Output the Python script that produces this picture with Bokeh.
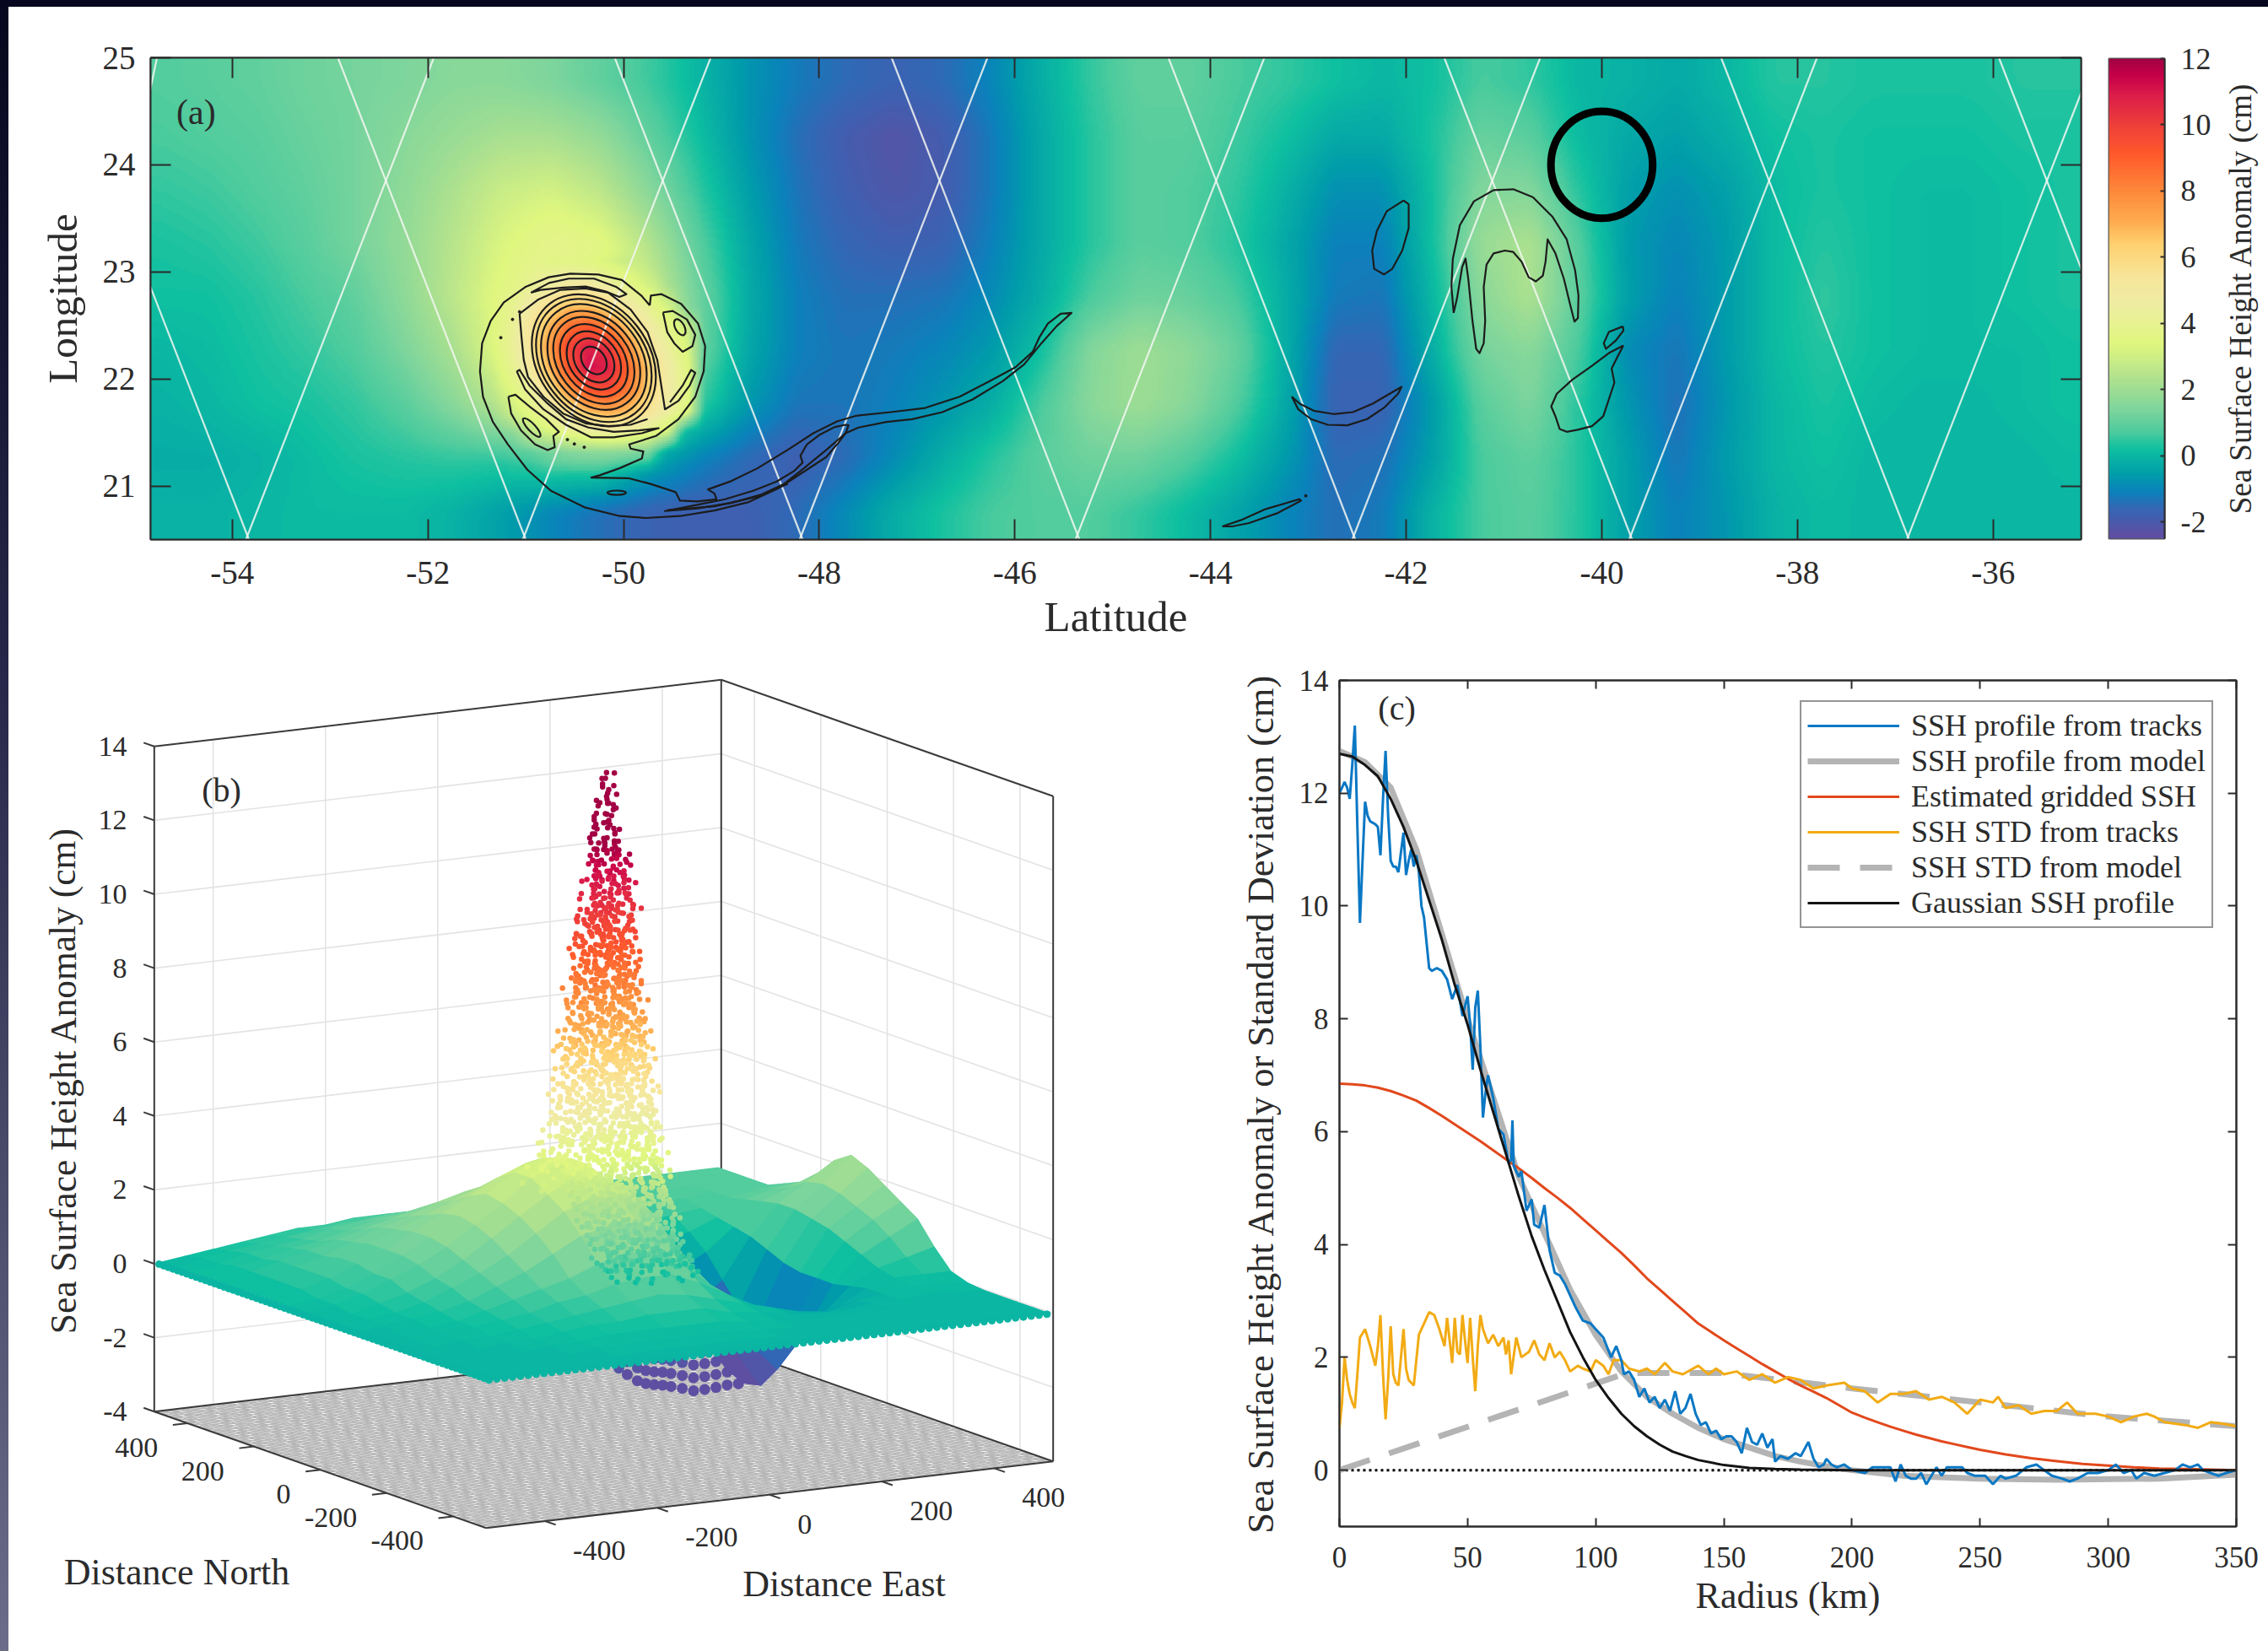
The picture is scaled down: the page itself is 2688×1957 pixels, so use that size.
import math
import numpy as np
from bokeh.plotting import figure
from bokeh.layouts import column, row
from bokeh.models import (ColumnDataSource, FixedTicker, LinearAxis, LinearColorMapper,
                          Legend, LegendItem, Range1d)
from bokeh.core.properties import value
from bokeh.transform import transform
from bokeh.embed import file_html
from bokeh.resources import INLINE

# ------------------------------------------------------------------ colour scale
cmap_values = [-2.5, -2.4, -1.6, -1.1, -0.6, 0.2, 0.7, 1.4, 2.4, 3.4, 4.6, 5.4, 6.4, 7.1, 7.9, 9.1, 10.0, 11.0, 11.5, 12.0]
cmap_colors = ["#5e4fa2", "#5e4fa2", "#3366b5", "#0a82bb", "#009caa", "#0fc0a0", "#4ccb9e", "#7ed59c", "#b4e38d", "#e0f77e",
               "#eeeca3", "#f7e69a", "#fed06f", "#feab4f", "#fd8d3c", "#ff5a2b", "#ef3f3a", "#d91a4a", "#c60048", "#a30044"]

# ------------------------------------------------------------------ panel (a): gridded field, 0.5 deg cells
sla_lat = [24.75, 24.25, 23.75, 23.25, 22.75, 22.25, 21.75, 21.25, 20.75]
sla_lon = [-54.75 + 0.5 * i for i in range(40)]
sla_rows = [
 [.8,.9,1.0,1.2,1.3,1.4,1.6,1.6,1.4,1.0,.6,0,-.7,-1.2,-1.5,-1.7,-1.5,-1.0,-.2,.5,1.0,1.0,.7,.5,.2,0,.2,.7,.5,0,-.1,-.3,0,.4,.4,.3,.3,.3,.4,.4],
 [.7,.8,.9,1.1,1.3,1.6,1.9,2.2,2.2,1.8,1.0,.2,-.7,-1.4,-1.9,-2.2,-1.9,-1.2,-.3,.4,.9,.9,.6,.2,-.3,-.3,.3,1.1,.9,.1,-.3,-.5,-.2,.2,.3,.2,.2,.2,.3,.3],
 [.5,.6,.8,1.0,1.3,1.7,2.3,2.9,3.1,2.6,1.6,.5,-.5,-1.3,-1.8,-2.1,-1.9,-1.2,-.3,.4,.9,.8,.5,-.1,-.8,-.8,.2,1.5,1.5,.4,-.5,-.8,-.5,.1,.3,.2,.1,.1,.2,.3],
 [.3,.4,.6,.9,1.3,1.8,2.5,3.3,3.9,3.6,2.4,.9,-.3,-1.2,-1.6,-1.8,-1.7,-1.1,-.3,.4,.9,.8,.4,-.3,-1.1,-1.1,.2,1.9,2.3,.8,-.6,-1,-.6,.1,.4,.2,.1,.1,.2,.3],
 [.2,.2,.4,.7,1.0,1.7,2.6,3.6,4.2,4.2,3.0,1.2,-.2,-1.1,-1.4,-1.4,-1.3,-.9,-.2,.7,1.2,1.1,.7,-.2,-1.2,-1.3,0,1.6,2.3,.9,-.5,-1.1,-.6,.1,.5,.2,.1,.1,.2,.3],
 [0,.1,.3,.5,.8,1.4,2.2,3.6,4.4,4.4,3.2,1.2,-.3,-1.1,-1.3,-1.2,-1.0,-.6,.2,1.5,2,1.7,1.1,-.2,-1.6,-1.6,-.2,1.3,1.6,.7,-.9,-1.3,-.6,.1,.4,.2,.1,.1,.1,.2],
 [-.1,0,.2,.3,.5,.9,1.6,2.6,3.8,3.9,2.4,.6,-.6,-1.3,-1.3,-1.1,-.7,-.2,.7,1.6,2,1.6,.8,-.3,-1.7,-1.7,-.6,.9,1.4,.4,-.7,-1.4,-.7,0,.3,.1,0,0,.1,.2],
 [-.2,-.2,-.1,.1,.3,.4,.5,.5,.9,1,-.2,-1,-1.5,-1.8,-1.5,-.9,-.2,.4,.9,1.2,1.2,.8,.2,-.6,-1.5,-1.4,-.5,.7,1,.4,-.5,-1.3,-.6,0,.2,0,0,0,0,.1],
 [-.1,-.1,0,.1,.1,.1,-.1,-.5,-1,-1.4,-1.7,-1.8,-1.8,-1.5,-.9,-.2,.3,.7,.8,.8,.5,.1,-.4,-1,-1.4,-1.2,-.1,.7,.9,.4,-.5,-1.1,-.7,-.1,.1,0,0,0,0,0],
]
nan = float("nan")
# the strong anomaly, 0.2 deg cells
core_lon = [-51.15 + 0.2 * i for i in range(10)]
core_lat = [23.1 - 0.2 * i for i in range(10)]
core_rows = [
 [nan,nan,3.6,3.7,3.5,3.2,2.8,nan,nan,nan],
 [nan,4.0,4.6,4.8,4.7,4.3,3.7,3.0,nan,nan],
 [3.9,4.8,5.7,6.4,6.4,5.7,4.8,3.9,3.0,nan],
 [4.1,5.4,6.95,8.6,9.0,8.0,6.2,4.8,3.7,2.9],
 [4.1,5.5,7.6,9.9,10.9,10.2,7.9,5.6,4.3,3.2],
 [3.9,5.1,7.0,9.5,11.2,10.8,8.8,6.4,4.7,3.6],
 [3.4,4.4,5.8,7.7,9.4,9.6,8.3,6.3,4.8,3.7],
 [2.9,3.7,4.6,5.7,6.8,7.2,6.7,5.5,4.5,3.5],
 [nan,2.6,3.2,3.8,4.2,4.4,4.2,3.7,3.0,nan],
 [nan,nan,1.2,1.4,1.5,1.5,1.4,1.2,nan,nan],
]
track_lon_at_25 = [-55.75, -54.77, -52.92, -51.94, -50.09, -49.11, -47.26, -46.28, -44.43, -43.45, -41.61, -40.63, -38.78, -37.80, -35.94, -34.96]
track_lon_at_205 = [-53.83, -55.81, -51.0, -53.86, -48.17, -51.03, -45.34, -48.2, -42.52, -45.38, -39.69, -42.55, -36.86, -39.72, -34.02, -36.88]

contour_main = [(-49.732,22.687),(-49.721,22.779),(-49.612,22.792),(-49.411,22.701),(-49.238,22.517),(-49.166,22.307),(-49.181,22.071),(-49.267,21.834),(-49.439,21.624),(-49.669,21.467),(-49.942,21.388),(-49.928,21.349),(-49.798,21.323),(-49.813,21.257),(-50.043,21.165),(-50.244,21.100),(-50.330,21.079),(-49.951,21.073),(-49.731,21.021),(-49.467,20.942),(-49.423,20.863),(-49.247,20.855),(-49.05,20.876),(-49.07,20.929),(-49.137,20.968),(-48.896,21.047),(-48.632,21.165),(-48.324,21.336),(-48.06,21.493),(-47.818,21.603),(-47.62,21.656),(-47.268,21.69),(-46.917,21.729),(-46.565,21.834),(-46.257,21.979),(-45.993,22.11),(-45.817,22.254),(-45.751,22.386),(-45.663,22.517),(-45.531,22.609),(-45.421,22.617),(-45.575,22.491),(-45.729,22.333),(-45.905,22.136),(-46.125,21.979),(-46.433,21.808),(-46.741,21.69),(-47.048,21.624),(-47.312,21.598),(-47.598,21.546),(-47.73,21.493),(-47.928,21.336),(-48.192,21.139),(-48.412,20.981),(-48.72,20.85),(-49.071,20.771),(-49.423,20.719),(-49.775,20.701),(-50.039,20.719),(-50.391,20.798),(-50.743,20.955),(-50.984,21.152),(-51.182,21.388),(-51.336,21.598),(-51.437,21.834),(-51.468,22.071),(-51.446,22.333),(-51.358,22.543),(-51.226,22.714),(-51.006,22.858),(-50.765,22.95),(-50.545,22.984),(-50.259,22.976),(-50.017,22.924),(-49.819,22.779),(-49.732,22.687)]
contour_tail = [(-47.73,21.572),(-47.84,21.551),(-47.994,21.48),(-48.126,21.388),(-48.192,21.283),(-48.17,21.218),(-48.258,21.139),(-48.434,21.042),(-48.676,20.955),(-48.962,20.876),(-49.247,20.824),(-49.577,20.766),(-49.247,20.79),(-48.896,20.842),(-48.588,20.921),(-48.324,21.034),(-48.126,21.152),(-47.928,21.27),(-47.818,21.388),(-47.73,21.493),(-47.70,21.567),(-47.73,21.572)]
contour_tail2 = [(-49.55,20.775),(-49.07,20.81),(-48.63,20.90),(-48.32,21.02)]
contour_left = [(-51.178,21.834),(-51.106,21.853),(-50.962,21.743),(-50.79,21.624),(-50.661,21.506),(-50.718,21.467),(-50.704,21.362),(-50.776,21.336),(-50.905,21.388),(-51.048,21.519),(-51.149,21.677),(-51.178,21.834)]
contour_upper_right = [(-49.597,22.622),(-49.497,22.635),(-49.353,22.556),(-49.267,22.412),(-49.296,22.307),(-49.396,22.254),(-49.482,22.333),(-49.554,22.438),(-49.597,22.622)]
contour_ring_right = [(-51.063,22.609),(-50.876,22.740),(-50.646,22.832),(-50.388,22.845),(-50.158,22.806),(-49.928,22.648),(-49.755,22.438),(-49.655,22.176),(-49.606,21.887),(-49.577,21.716),(-49.439,21.795),(-49.324,21.939),(-49.267,22.057),(-49.31,22.084),(-49.396,21.939),(-49.526,21.782)]
contour_ring_left = [(-51.063,22.609),(-51.043,22.386),(-51.02,22.176),(-50.977,22.018),(-50.819,21.834),(-50.617,21.677),(-50.388,21.585),(-50.158,21.559),(-49.928,21.572),(-49.755,21.625)]
contour_low = [(-51.092,22.071),(-51.063,22.084),(-50.962,21.939),(-50.79,21.782),(-50.589,21.624),(-50.359,21.546),(-50.1,21.506),(-49.842,21.52),(-49.641,21.54),(-49.813,21.493),(-50.1,21.454),(-50.33,21.454),(-50.589,21.572),(-50.819,21.716),(-51.005,21.9),(-51.092,22.071)]
contour_top = [(-50.948,22.806),(-50.761,22.897),(-50.56,22.937),(-50.301,22.937),(-50.071,22.858),(-49.971,22.792),(-50.043,22.766),(-50.187,22.819),(-50.388,22.863),(-50.617,22.853),(-50.847,22.832),(-50.948,22.806)]
contour_blob1 = [(-42.026,23.667),(-41.974,23.632),(-41.974,23.409),(-42.04,23.199),(-42.141,23.029),(-42.227,22.976),(-42.327,23.029),(-42.347,23.199),(-42.299,23.383),(-42.198,23.567),(-42.026,23.667)]
contour_smile = [(-43.169,21.835),(-43.089,21.769),(-42.945,21.703),(-42.744,21.672),(-42.543,21.69),(-42.342,21.769),(-42.169,21.861),(-42.046,21.926),(-42.083,21.861),(-42.227,21.73),(-42.399,21.625),(-42.6,21.567),(-42.802,21.572),(-42.974,21.625),(-43.103,21.716),(-43.169,21.835)]
contour_sliver = [(-43.879,20.622),(-43.692,20.68),(-43.434,20.785),(-43.089,20.877),(-43.075,20.863),(-43.319,20.745),(-43.606,20.654),(-43.779,20.622),(-43.879,20.622)]
contour_arch = [(-41.514,22.617),(-41.537,22.858),(-41.523,23.121),(-41.451,23.436),(-41.307,23.659),(-41.106,23.764),(-40.905,23.772),(-40.704,23.698),(-40.503,23.514),(-40.359,23.304),(-40.273,23.016),(-40.238,22.779),(-40.244,22.569),(-40.279,22.535),(-40.325,22.701),(-40.388,22.937),(-40.474,23.173),(-40.554,23.304),(-40.575,23.094),(-40.603,22.963),(-40.675,22.911),(-40.747,22.95),(-40.819,23.094),(-40.905,23.186),(-40.991,23.199),(-41.106,23.173),(-41.178,23.068),(-41.207,22.858),(-41.192,22.543),(-41.207,22.333),(-41.25,22.241),(-41.284,22.281),(-41.322,22.543),(-41.365,22.937),(-41.393,23.126),(-41.428,23.042),(-41.48,22.753),(-41.514,22.617)]
contour_blob2 = [(-39.779,22.312),(-39.842,22.202),(-39.899,22.097),(-39.871,21.966),(-39.928,21.808),(-39.985,21.651),(-40.1,21.559),(-40.244,21.525),(-40.359,21.506),(-40.431,21.533),(-40.474,21.651),(-40.517,21.743),(-40.46,21.861),(-40.302,21.992),(-40.1,22.123),(-39.928,22.241),(-39.779,22.312)]
contour_blob3 = [(-39.784,22.491),(-39.779,22.451),(-39.856,22.359),(-39.957,22.281),(-39.98,22.333),(-39.928,22.438),(-39.784,22.491)]
contours = [contour_main, contour_tail, contour_tail2, contour_left, contour_upper_right, contour_ring_right, contour_ring_left,
            contour_low, contour_top, contour_blob1, contour_smile, contour_sliver, contour_arch, contour_blob2, contour_blob3]
speck_lon = [-51.255, -51.135, -51.063, -50.574, -50.503, -50.402, -43.026]
speck_lat = [22.386, 22.556, 22.627, 21.433, 21.393, 21.362, 20.908]
# closed rings: centre, long axis (deg lon), short axis (deg lat), angle (deg)
ring_lon = [-50.304]*9 + [-50.07, -50.939, -49.425]
ring_lat = [22.173]*9 + [20.937, 21.546, 22.483]
ring_long = [.31, .49, .65, .81, .97, 1.10, 1.25, 1.37, 1.47, .19, .25, .18]
ring_short = [.21, .34, .45, .56, .67, .77, .88, .96, 1.03, .04, .07, .085]
ring_angle = [128]*9 + [0, 133, 118]
mark_lon, mark_lat = [-40.0], [24.0]
mark_diam_lon, mark_diam_lat = [1.04], [1.0]

xticks_a = [-54, -52, -50, -48, -46, -44, -42, -40, -38, -36]
yticks_a = [21, 22, 23, 24, 25]
cbar_ticks = [-2, 0, 2, 4, 6, 8, 10, 12]

# ------------------------------------------------------------------ panel (b)
sheet_east = [-500,-450,-400,-350,-300,-250,-200,-150,-100,-50,0,50,100,150,200,250,300,350,400,450,500]
sheet_north = [500,450,400,350,300,250,200,150,100,50,0,-50,-100,-150,-200,-250,-300,-350,-400,-450,-500]
sheet_ssh = [
 [0,.1,.2,.3,.4,.5,.5,.6,.6,.6,.5,.5,.5,.6,.7,.8,.8,.8,.8,.8,.8],
 [0,.2,.3,.4,.5,.6,.7,.7,.8,.8,.7,.6,.6,.7,.8,.8,.8,.8,.8,.8,.8],
 [.1,.2,.4,.5,.6,.8,.9,1.0,1.0,1.0,.9,.8,.7,.7,.8,.8,.8,.8,.8,.8,.8],
 [.1,.3,.4,.6,.7,.9,1.1,1.2,1.3,1.3,1.2,1.0,.8,.7,.7,.7,.7,.7,.8,.8,.8],
 [.1,.3,.5,.7,.9,1.1,1.3,1.5,1.6,1.7,1.6,1.3,1.0,.7,.5,.4,.5,.6,.8,.9,1.0],
 [.1,.3,.5,.7,1.0,1.3,1.5,1.8,2.0,2.1,2.0,1.6,1.0,.5,.2,.0,.2,.5,.9,1.1,1.2],
 [.1,.3,.5,.8,1.1,1.4,1.7,2.0,2.3,2.6,2.5,1.9,1.1,.4,-.2,-.6,-.2,.4,1.0,1.3,1.6],
 [.1,.3,.5,.8,1.1,1.5,1.9,2.3,2.7,3.0,2.9,2.2,1.2,.2,-.8,-1.4,-.8,.3,1.1,1.6,2.1],
 [.1,.2,.4,.7,1.1,1.5,2.0,2.5,3.0,3.3,3.2,2.4,1.4,.1,-1.3,-2.2,-1.4,.1,1.1,1.7,2.4],
 [0,.2,.4,.7,1.0,1.4,1.9,2.4,3.0,3.3,3.2,2.5,1.5,0,-1.7,-2.8,-1.8,-.1,1.0,1.6,2.2],
 [0,.1,.3,.5,.8,1.2,1.7,2.2,2.7,3.1,3.0,2.5,1.4,-.1,-1.9,-3.0,-1.9,-.2,.9,1.4,1.9],
 [0,.1,.2,.4,.7,1.0,1.4,1.9,2.4,2.7,2.7,2.2,1.1,-.2,-1.8,-2.9,-1.8,-.2,.7,1.2,1.6],
 [0,.1,.2,.3,.5,.8,1.1,1.5,1.9,2.1,2.1,1.7,.7,-.3,-1.5,-2.3,-1.4,-.2,.5,.9,1.3],
 [0,0,.1,.2,.4,.6,.8,1.0,1.3,1.5,1.5,1.1,.4,-.3,-1.0,-1.5,-.8,-.1,.3,.5,.7],
 [0,0,.1,.2,.3,.4,.6,.7,.9,1.0,1.0,.7,.3,-.1,-.5,-.7,-.4,0,.2,.2,.2],
 [0,0,.1,.1,.2,.3,.4,.5,.6,.7,.6,.4,.2,0,-.2,-.3,-.1,0,.1,.1,.05],
 [0,0,0,.1,.1,.2,.3,.3,.4,.4,.4,.2,.1,0,-.1,-.1,0,0,.1,.05,0],
 [0,0,0,0,.1,.1,.2,.2,.2,.2,.2,.1,.05,0,0,0,0,0,0,0,0],
 [0,0,0,0,0,.1,.1,.1,.1,.1,.1,.05,0,0,0,0,0,0,0,0,0],
 [0,0,0,0,0,0,.05,.05,.05,.05,.05,0,0,0,0,0,0,0,0,0,0],
 [0,0,0,0,0,0,0,0,0,0,0,0,0,0,0,0,0,0,0,0,0],
]
# underside of the depression that shows below the sheet's front edge
bowl_east = [27,42,60,75,90,105,120,140,160,180,200,220,240,260,280,295,310]
bowl_low = [-2.2,-2.4,-2.6,-2.7,-2.76,-2.8,-2.86,-2.95,-3.05,-3.05,-3.03,-3.0,-3.0,-2.85,-2.67,-2.5,-2.28]
# dots of the central peak: height (cm), distance east (km) of each dot
peak_rows = [
 (13.9,[-6,0,4]),(13.7,[-9,-2,6]),(13.5,[-11,7]),(13.3,[-10,1,10]),(13.0,[-12,-3,8,13]),(12.8,[-10,12]),
 (12.5,[-17,-9,2,14]),(12.3,[-20,-6,9,18]),(12.0,[-22,-12,-2,10,20]),(11.8,[-24,-15,0,13,25]),(11.5,[-26,-10,6,22]),
 (11.3,[-28,-18,-4,11,29]),(11.0,[-30,-14,0,8,24,33]),(10.8,[-27,-20,-6,16,31]),(10.5,[-32,-22,-11,3,12,26,36]),
 (10.3,[-34,-16,-3,20,40]),(10.0,[-36,-24,-8,6,18,32]),(9.8,[-38,-28,-14,1,12,27,42]),(9.5,[-40,-20,-6,9,22,38]),
 (9.3,[-43,-31,-12,3,17,30,45]),(9.0,[-42,-26,-18,-2,11,25,40]),(8.8,[-45,-34,-10,6,19,33,48]),(8.5,[-48,-28,-16,0,14,28,44]),
 (8.3,[-50,-38,-22,-6,9,24,37,50]),(8.0,[-52,-40,-30,-13,3,17,32,46]),(7.8,[-54,-26,-8,12,27,41,55]),(7.5,[-55,-43,-20,-2,8,22,36,52]),
 (7.3,[-58,-35,-14,5,18,30,46,58]),(7.0,[-60,-48,-28,-10,2,15,28,42,56]),(6.8,[-62,-40,-20,-4,10,24,38,52,60]),
 (6.5,[-65,-52,-33,-15,0,13,27,44,62]),(6.3,[-68,-45,-25,-8,7,20,35,50,64]),(6.0,[-70,-56,-38,-18,-2,12,26,41,57,68]),
 (5.8,[-72,-48,-30,-12,5,18,33,48,66]),(5.5,[-75,-60,-42,-22,-6,9,23,38,54,70]),(5.3,[-78,-52,-35,-15,2,16,30,46,62,72]),
 (5.0,[-82,-65,-45,-27,-10,6,20,35,50,67,75]),(4.8,[-85,-58,-38,-20,-4,12,27,42,58,74]),(4.5,[-88,-70,-50,-32,-14,2,17,32,48,64,78]),
 (4.3,[-92,-62,-43,-25,-8,8,23,39,55,71,80]),(4.0,[-96,-76,-55,-36,-18,-2,13,28,44,60,76,84]),(3.8,[-100,-68,-47,-28,-12,4,19,35,51,67,86]),
 (3.5,[-108,-82,-58,-40,-22,-5,10,25,41,57,73,88]),(3.3,[-115,-74,-50,-32,-15,1,16,32,48,64,80,90]),(3.0,[-125,-90,-62,-44,-26,-9,6,22,38,54,70,86,94]),
 (2.7,[-60,-40,-20,-5,10,25,40,55,70,85,96]),(2.4,[-50,-30,-12,5,20,35,50,65,80,95,102]),(2.1,[-45,-25,-8,10,28,42,58,72,88,104,108]),
 (1.8,[-35,-15,2,18,34,50,66,82,98,112]),(1.5,[-30,-10,8,24,40,56,72,88,104,118]),(1.2,[-20,0,16,32,48,64,80,96,112,124]),
 (0.9,[-10,8,26,42,58,74,90,106,122,132]),(0.6,[0,18,34,50,66,82,98,114,130,140]),(0.3,[10,28,44,60,76,92,108,124,140,146]),
]
# the same cloud seen on tracks north and south of the peak centre: north (km), east shift (km), height shift (cm)
peak_layers = [(0, 0, 0), (32, 8, 0.09), (-32, -7, -0.08), (16, -12, 0.16)]
peak_east_wobble = [3,-5,7,-2,-8,4,1,-6,9,-3,5,-9,2,6,-4,8,-7,0,-1,5,-6,3,8,-8,1,-3,6]
peak_ssh_wobble = [.06,-.09,.02,.11,-.04,-.12,.08,-.01,.1,-.07,.04,-.11,.12,-.03,.07,-.06,.01,.09,-.1,.05,-.02]
east_ticks = [-400, -200, 0, 200, 400]
north_ticks = [400, 200, 0, -200, -400]
z_ticks = [-4, -2, 0, 2, 4, 6, 8, 10, 12, 14]

# ------------------------------------------------------------------ panel (c)
tracks_r = [0,1,2,3,4,5,6,7,8,9,10,11,12,14,15,16,17,18,19,20,21,22,23,25,26,27,28,29,30,31,32,33,35,36,38,40,42,44,46,48,50,51,52,53,54,55,56,57,58,60,62,64,65,66,67,67.5,68,70,71,73,75,76,78,80,82,84,86,88,90,92,95,98,100,103,106,108,110,111,113,115,117,119,121,123,125,127,129,131,133,135,137,139,141,143,145,147,149,151,153,155,157,159,161,163,165,167,169,170,172,175,178,180,183,185,187,189,190,192,194,197,200,205,208,212,215,217,219,221,223,225,227,229,231,233,235,237,240,243,245,248,252,255,258,260,264,268,272,275,278,282,285,288,292,296,300,303,306,309,311,314,318,322,326,329,332,335,337,340,343,346,350]
tracks_ssh = [12.0,12.1,12.2,12.1,11.9,12.5,13.2,11.4,9.7,10.8,11.85,11.6,11.5,11.45,11.4,10.9,11.9,12.75,11.6,10.8,10.7,10.7,10.6,11.3,10.55,10.8,11,10.7,10.9,10.6,10.0,9.8,8.9,8.85,8.9,8.85,8.7,8.35,8.6,8.05,8.4,7.9,7.1,8.2,8.5,7.5,6.25,6.7,7.0,6.6,6.05,5.95,5.7,5.45,5.5,6.2,5.4,5.2,5.3,4.6,4.8,4.35,4.3,4.7,3.9,3.5,3.45,3.3,3.1,2.9,2.65,2.6,2.5,2.35,2.0,2.2,1.95,1.7,1.75,1.6,1.3,1.45,1.2,1.3,1.1,1.25,1.05,1.4,1.0,1.1,1.35,1.0,.8,.85,.65,.7,.55,.6,.6,.5,.3,.75,.5,.45,.65,.4,.55,.15,.25,.2,.3,.25,.5,.2,.05,.1,.2,.1,.05,.1,0,-.05,.05,.05,.05,-.2,.1,-.1,-.15,-.15,-.05,-.25,-.1,.05,-.1,.05,.05,.05,-.05,-.1,-.1,-.25,-.1,-.15,-.1,.05,.1,0,-.1,-.15,-.2,-.15,-.05,-.05,0,.1,-.05,0,-.15,-.05,-.1,-.05,0,.1,.05,.1,0,-.05,-.1,-.05,0]
model_r = [0,10,20,30,40,50,60,70,80,90,100,110,120,130,140,150,160,170,180,190,200,220,250,280,320,350]
model_ssh = [12.75,12.55,12.1,11,9.5,8.0,6.6,5.2,4.2,3.2,2.4,1.75,1.3,1.0,.75,.55,.4,.25,.15,.07,0,-.1,-.15,-.17,-.15,-.08]
gridded_r = [0,5,10,15,20,25,30,35,40,45,50,55,60,65,70,75,80,85,90,95,100,105,110,115,120,125,130,135,140,145,150,155,160,165,170,175,180,185,190,195,200,205,210,215,220,225,230,235,240,245,250,260,270,280,290,300,310,320,330,350]
gridded_ssh = [6.85,6.84,6.82,6.78,6.72,6.64,6.55,6.42,6.28,6.13,5.98,5.83,5.67,5.51,5.35,5.18,5.0,4.83,4.65,4.45,4.25,4.05,3.85,3.63,3.4,3.2,3.0,2.8,2.6,2.45,2.3,2.16,2.02,1.88,1.75,1.62,1.5,1.39,1.28,1.15,1.02,.93,.85,.77,.7,.63,.57,.51,.46,.41,.36,.28,.21,.16,.11,.08,.05,.03,.02,0]
std_r = [0,1,2,3,4,5,6,7,8,10,12,14,15,16,17,18,19,20,21,22,23,25,26,27,28,29,31,33,35,37,39,41,42,43,44,45,46,47,48,49,50,51,52,53,54,55,56,58,60,62,64,65,66,67,69,71,74,76,78,80,82,84,86,88,90,93,95,98,100,103,105,107,110,113,117,120,123,127,130,134,140,144,147,150,155,160,165,170,175,180,185,190,197,200,205,210,215,220,225,230,235,240,245,250,255,257,260,265,270,275,280,284,288,295,300,305,310,315,318,322,330,335,340,345,350]
std_tracks = [.75,1.2,2.0,1.6,1.35,1.2,1.1,1.7,2.35,2.5,2.2,1.85,2.2,2.75,1.7,.9,1.6,2.55,1.7,1.55,1.5,2.5,1.8,1.6,1.55,1.5,2.4,2.6,2.8,2.75,2.5,2.2,2.7,2.3,1.9,2.7,2.1,2.05,2.75,2.3,1.9,2.7,2.0,1.4,2.2,2.75,2.5,2.25,2.4,2.2,2.35,2.05,2.3,1.7,2.35,2.0,2.1,2.3,2.05,1.95,2.25,2.0,2.1,1.95,1.75,1.85,1.8,1.75,1.95,1.85,1.7,1.95,1.95,1.8,1.75,1.8,1.7,1.9,1.75,1.7,1.85,1.7,1.8,1.7,1.75,1.6,1.7,1.55,1.65,1.6,1.45,1.5,1.55,1.45,1.4,1.2,1.35,1.35,1.4,1.25,1.3,1.2,1.0,1.25,1.2,1.3,1.1,1.15,1.0,1.05,1.05,1.2,1.0,1.0,.95,.85,.95,1.0,.95,.85,.8,.75,.85,.82,.78]
std_model_r = [0,112,125,150,200,250,300,350]
std_model = [0,1.72,1.72,1.72,1.45,1.2,.95,.78]
gauss_r = [0,5,10,15,20,25,30,35,40,45,50,55,60,65,70,75,80,85,90,95,100,105,110,115,120,125,130,135,140,150,160,170,180,200,350]
gauss_ssh = [12.7,12.65,12.5,12.3,11.9,11.4,10.8,10.1,9.4,8.6,7.9,7.1,6.35,5.6,4.85,4.15,3.55,3.0,2.45,2.0,1.6,1.28,1.0,.78,.6,.45,.33,.25,.18,.09,.04,.02,.01,0,0]
xticks_c = [0, 50, 100, 150, 200, 250, 300, 350]
yticks_c = [0, 2, 4, 6, 8, 10, 12, 14]

# ------------------------------------------------------------------ style
SERIF = "Liberation Serif"
INK = "#2b2b2b"

palette_levels = np.linspace(-2.5, 12, 256)
_rgb = np.array([[int(c[i:i+2], 16) for i in (1, 3, 5)] for c in cmap_colors], float)
palette = ["#%02x%02x%02x" % tuple(int(round(np.interp(v, cmap_values, _rgb[:, k]))) for k in range(3)) for v in palette_levels]
mapper = LinearColorMapper(palette=palette, low=-2.5, high=12, nan_color="rgba(0,0,0,0)")


def style_axis(ax, size, tick_in, standoff, label_size=None, label_standoff=0, ticks=()):
    ax.major_label_text_font = SERIF
    ax.major_label_text_font_size = size
    ax.major_label_text_color = INK
    ax.major_tick_in = tick_in
    ax.major_tick_out = 0
    ax.minor_tick_line_color = None
    ax.major_tick_line_color = INK
    ax.major_tick_line_width = 2
    ax.axis_line_color = INK
    ax.axis_line_width = 2
    ax.major_label_standoff = standoff
    ax.major_label_overrides = {t: str(t) for t in ticks}
    if label_size:
        ax.axis_label_text_font = SERIF
        ax.axis_label_text_font_size = label_size
        ax.axis_label_text_font_style = "normal"
        ax.axis_label_text_color = INK
        ax.axis_label_standoff = label_standoff


def blank_axis(ticks, tick_in):
    ax = LinearAxis(ticker=FixedTicker(ticks=ticks))
    style_axis(ax, "0px", tick_in, 0)
    ax.major_label_text_color = None
    return ax


def xy(pts):
    return [p[0] for p in pts], [p[1] for p in pts]


def resample(rows, lon, lat, lon_f, lat_f):
    # display resampling of a read grid onto the raster drawn by the image glyph
    a = np.asarray(rows, float)
    order = np.argsort(lat)
    a = a[order]
    lat_s = np.asarray(lat)[order]
    across = np.array([np.interp(lon_f, lon, r) for r in a])
    return np.array([np.interp(lat_f, lat_s, across[:, k]) for k in range(across.shape[1])]).T


def soften(a, n):
    k = np.ones(n) / n
    pad = n // 2
    b = np.pad(a, ((0, 0), (pad, pad)), mode="edge")
    b = np.array([np.convolve(r, k, mode="same") for r in b])[:, pad:-pad]
    b = np.pad(b, ((pad, pad), (0, 0)), mode="edge")
    return np.array([np.convolve(c, k, mode="same") for c in b.T]).T[pad:-pad, :]


STEP = 0.025
lon_fine = -55 + STEP * (np.arange(800) + .5)
lat_fine = 20.5 + STEP * (np.arange(180) + .5)
field = soften(resample(sla_rows, sla_lon, sla_lat, lon_fine, lat_fine), 8)
_pad_core = np.pad(np.array(core_rows, float), 1, constant_values=nan)
_pad_lon = [core_lon[0] - .2] + core_lon + [core_lon[-1] + .2]
_pad_lat = [core_lat[0] + .2] + core_lat + [core_lat[-1] - .2]
_mask = (~np.isnan(_pad_core)).astype(float)
_core_w = resample(_mask, _pad_lon, _pad_lat, lon_fine, lat_fine)
_core_v = resample(np.nan_to_num(_pad_core) * _mask, _pad_lon, _pad_lat, lon_fine, lat_fine)
_core_full = np.where(_core_w > .01, _core_v / np.maximum(_core_w, .01), field)
_w = np.clip(_core_w, 0, 1) ** 1.5
field = field * (1 - _w) + _core_full * _w

# ------------------------------------------------------------------ figure (a)
fa = figure(width=2470, height=762, output_backend="svg", toolbar_location=None, frame_align=False,
            x_range=Range1d(-54.835, -35.1), y_range=Range1d(20.5, 25),
            min_border_left=168, min_border_right=14, min_border_top=60, min_border_bottom=131,
            x_axis_label="Latitude", y_axis_label="Longitude")
fa.grid.visible = False
fa.outline_line_color = INK
fa.outline_line_width = 2
fa.xaxis.ticker = FixedTicker(ticks=xticks_a)
fa.yaxis.ticker = FixedTicker(ticks=yticks_a)
style_axis(fa.xaxis[0], "39px", 24, 26, "51px", 8, xticks_a)
style_axis(fa.yaxis[0], "39px", 24, 18, "49px", 17, yticks_a)
fa.add_layout(blank_axis(xticks_a, 24), "above")
fa.add_layout(blank_axis(yticks_a, 24), "right")

fa.image(image=[field], x=-55, y=20.5, dw=20, dh=4.5, color_mapper=mapper)
fa.segment(x0=track_lon_at_25, y0=[25]*16, x1=track_lon_at_205, y1=[20.5]*16, line_color="#f4f7f2", line_width=2.2, line_alpha=.85)
fa.multi_line(xs=[xy(c)[0] for c in contours], ys=[xy(c)[1] for c in contours],
              line_color="#1c1c1c", line_width=2.2, line_join="round")
fa.ellipse(x=ring_lon, y=ring_lat, width=ring_long, height=ring_short, angle=ring_angle, angle_units="deg",
           fill_color=None, line_color="#1c1c1c", line_width=2.2)
fa.scatter(x=speck_lon, y=speck_lat, size=3, color="#1c1c1c")
fa.ellipse(x=mark_lon, y=mark_lat, width=mark_diam_lon, height=mark_diam_lat, fill_color=None, line_color="black", line_width=9)
fa.text(x=[-54.37], y=[24.49], text=["(a)"], text_font=value(SERIF), text_font_size="42px", text_color=INK,
        text_align="center", text_baseline="middle")

# ------------------------------------------------------------------ colour bar and its title
fcb = figure(width=145, height=762, output_backend="svg", toolbar_location=None, frame_align=False,
             x_range=Range1d(0, 1), y_range=Range1d(-2.5, 12), x_axis_location=None, y_axis_location="right",
             min_border_left=19, min_border_right=60, min_border_top=61, min_border_bottom=132)
fcb.grid.visible = False
fcb.outline_line_color = "#555555"
fcb.outline_line_width = 2
fcb.yaxis.ticker = FixedTicker(ticks=cbar_ticks)
style_axis(fcb.yaxis[0], "36px", 5, 19, None, 0, cbar_ticks)
fcb.image(image=[palette_levels.reshape(-1, 1)], x=0, y=-2.5, dw=1, dh=14.5, color_mapper=mapper)

fcl = figure(width=60, height=762, output_backend="svg", toolbar_location=None, frame_align=False,
             x_range=Range1d(0, 60), y_range=Range1d(0, 762), x_axis_location=None, y_axis_location=None, min_border=0)
fcl.grid.visible = False
fcl.outline_line_color = None
fcl.text(x=[30], y=[417], text=["Sea Surface Height Anomaly (cm)"], angle=[math.pi / 2], text_font=value(SERIF), text_font_size="37px",
         text_color=INK, text_align="center", text_baseline="middle")

# ------------------------------------------------------------------ figure (b): oblique 3-D view


def sx(e, n):
    return np.asarray(e, float) * 0.6653 - np.asarray(n, float) * 0.3934


def sy(e, n, z):
    return np.asarray(e, float) * 0.0782 + np.asarray(n, float) * 0.138 + np.asarray(z, float) * 43.8


EMAX, NMAX, ZLO, ZHI = 505, 500, -4, 14
fb = figure(width=1390, height=1179, output_backend="svg", toolbar_location=None, frame_align=False,
            x_range=Range1d(-705, 685), y_range=Range1d(-422, 757),
            x_axis_location=None, y_axis_location=None, min_border=0)
fb.grid.visible = False
fb.outline_line_color = None

# wall grid
gx, gy = [], []
for e in east_ticks:
    gx.append(sx([e, e], [NMAX, NMAX])); gy.append(sy([e, e], [NMAX, NMAX], [ZLO, ZHI]))
for n in north_ticks:
    gx.append(sx([EMAX, EMAX], [n, n])); gy.append(sy([EMAX, EMAX], [n, n], [ZLO, ZHI]))
for z in z_ticks[1:-1]:
    gx.append(sx([-EMAX, EMAX, EMAX], [NMAX, NMAX, -NMAX])); gy.append(sy([-EMAX, EMAX, EMAX], [NMAX, NMAX, -NMAX], [z, z, z]))
fb.multi_line(xs=[list(a) for a in gx], ys=[list(a) for a in gy], line_color="#e3e3e3", line_width=1.6)

# floor tracks
hx, hy = [], []
for slope, offs in ((0.42, range(-1000, 1000, 14)), (-0.42, range(-1000, 1000, 14)), (0.02, range(-520, 520, 11))):
    for n0 in offs:
        e0, e1 = -EMAX, EMAX
        if slope:
            lo, hi = sorted(((-NMAX - n0) / slope, (NMAX - n0) / slope))
            e0, e1 = max(e0, lo), min(e1, hi)
        if e1 <= e0:
            continue
        n_a, n_b = n0 + slope * e0, n0 + slope * e1
        if abs(n_a) > NMAX + 1 or abs(n_b) > NMAX + 1:
            continue
        hx.append(list(sx([e0, e1], [n_a, n_b]))); hy.append(list(sy([e0, e1], [n_a, n_b], [ZLO, ZLO])))
fb.multi_line(xs=hx, ys=hy, line_color="#b4b4b4", line_width=1)

# box
box = [([-EMAX, -EMAX], [NMAX, NMAX], [ZLO, ZHI]), ([-EMAX, EMAX], [NMAX, NMAX], [ZHI, ZHI]), ([EMAX, EMAX], [NMAX, -NMAX], [ZHI, ZHI]),
       ([EMAX, EMAX], [-NMAX, -NMAX], [ZHI, ZLO]), ([EMAX, EMAX], [NMAX, NMAX], [ZLO, ZHI]),
       ([-EMAX, -EMAX], [NMAX, -NMAX], [ZLO, ZLO]), ([-EMAX, EMAX], [-NMAX, -NMAX], [ZLO, ZLO]),
       ([-EMAX, EMAX], [NMAX, NMAX], [ZLO, ZLO]), ([EMAX, EMAX], [NMAX, -NMAX], [ZLO, ZLO])]
fb.multi_line(xs=[list(sx(b[0], b[1])) for b in box], ys=[list(sy(*b)) for b in box], line_color="#3a3a3a", line_width=2)
tick_x, tick_y = [], []
for e in east_ticks:
    tick_x.append(list(sx([e, e], [-NMAX, -NMAX - 32]))); tick_y.append(list(sy([e, e], [-NMAX, -NMAX - 32], [ZLO, ZLO])))
for n in north_ticks:
    tick_x.append(list(sx([-EMAX, -EMAX - 26], [n, n]))); tick_y.append(list(sy([-EMAX, -EMAX - 26], [n, n], [ZLO, ZLO])))
for z in z_ticks:
    tick_x.append(list(sx([-EMAX, -EMAX], [NMAX, NMAX + 32]))); tick_y.append(list(sy([-EMAX, -EMAX], [NMAX, NMAX + 32], [z, z])))
fb.multi_line(xs=tick_x, ys=tick_y, line_color="#3a3a3a", line_width=2)

# depression underside, behind the sheet
be, bz = [], []
for e, low in zip(bowl_east, bowl_low):
    for lift in (0, .35, .7, 1.05):
        be.append(e); bz.append(low + lift)
fb.scatter(x="x", y="y", source=ColumnDataSource(dict(x=sx(be, [0]*len(be)), y=sy(be, [0]*len(be), bz), z=bz)),
           size=13, fill_color=transform("z", mapper), line_color=None)

# sheet, far cells first
cells = []
ssh = np.array(sheet_ssh, float)
for j in range(len(sheet_north) - 1):
    for i in range(len(sheet_east) - 1):
        es = [sheet_east[i], sheet_east[i + 1], sheet_east[i + 1], sheet_east[i]]
        ns = [sheet_north[j], sheet_north[j], sheet_north[j + 1], sheet_north[j + 1]]
        zs = [ssh[j, i], ssh[j, i + 1], ssh[j + 1, i + 1], ssh[j + 1, i]]
        depth = np.mean(es) * 0.0782 + np.mean(ns) * 0.138
        cells.append((depth, list(sx(es, ns)), list(sy(es, ns, zs)), float(np.mean(zs))))
cells.sort(key=lambda c: -c[0])
fb.patches(xs="xs", ys="ys", source=ColumnDataSource(dict(xs=[c[1] for c in cells], ys=[c[2] for c in cells], z=[c[3] for c in cells])),
           fill_color=transform("z", mapper), line_color=transform("z", mapper), line_width=1.5)

# beaded front edges of the sheet
edge_e = list(range(-500, 501, 14)) + [-500] * 72
edge_n = [-500] * 72 + list(range(-500, 501, 14))
fb.scatter(x=sx(edge_e, edge_n), y=sy(edge_e, edge_n, [0] * len(edge_e)), size=8, color=palette[int(2.5 / 14.5 * 255)])

# peak dots
pe, pn, pz = [], [], []
count = 0
for z, es in peak_rows:
    layers = peak_layers[:1] if z > 13 else peak_layers[:2] if z > 12 else peak_layers[:3] if z > 10 else peak_layers
    for n_shift, e_shift, z_shift in layers:
        for e in es:
            pe.append(8 + e + e_shift + peak_east_wobble[count % len(peak_east_wobble)])
            pn.append(n_shift)
            pz.append(z + z_shift + peak_ssh_wobble[count % len(peak_ssh_wobble)])
            count += 1
fb.scatter(x="x", y="y", source=ColumnDataSource(dict(x=sx(pe, pn), y=sy(pe, pn, pz), z=pz)),
           size=6.5, fill_color=transform("z", mapper), line_color=None)


def page_x(px):
    return px - 715


def page_y(py):
    return 1527 - py


text_kw = dict(text_font=value(SERIF), text_color=INK, text_baseline="middle")
fb.text(x=[page_x(150)] * len(z_ticks), y=sy([-EMAX] * len(z_ticks), [NMAX] * len(z_ticks), z_ticks), text=[str(z) for z in z_ticks],
        text_font_size="34px", text_align="right", **text_kw)
fb.text(x=sx(east_ticks, [-NMAX] * 5) + 33, y=sy(east_ticks, [-NMAX] * 5, [ZLO] * 5) - 35, text=[str(e) for e in east_ticks],
        text_font_size="34px", text_align="left", **text_kw)
fb.text(x=sx([-EMAX] * 5, north_ticks) - 35, y=sy([-EMAX] * 5, north_ticks, [ZLO] * 5) - 29, text=[str(n) for n in north_ticks],
        text_font_size="34px", text_align="right", **text_kw)
fb.text(x=[page_x(209)], y=[page_y(1863)], text=["Distance North"], text_font_size="44px", text_align="center", **text_kw)
fb.text(x=[page_x(1000)], y=[page_y(1877)], text=["Distance East"], text_font_size="44px", text_align="center", **text_kw)
fb.text(x=[page_x(74)], y=[page_y(1280)], text=["Sea Surface Height Anomaly (cm)"], angle=[math.pi / 2], text_font_size="43.5px",
        text_align="center", **text_kw)
fb.text(x=[page_x(262)], y=[page_y(936)], text=["(b)"], text_font_size="40px", text_align="center", **text_kw)

# ------------------------------------------------------------------ figure (c)
fc = figure(width=1280, height=1179, output_backend="svg", toolbar_location=None, frame_align=False,
            x_range=Range1d(0, 350), y_range=Range1d(-1, 14),
            min_border_left=187, min_border_right=30, min_border_top=36, min_border_bottom=140,
            x_axis_label="Radius (km)", y_axis_label="Sea Surface Height Anomaly or Standard Deviation (cm)")
fc.grid.visible = False
fc.outline_line_color = INK
fc.outline_line_width = 2
fc.xaxis.ticker = FixedTicker(ticks=xticks_c)
fc.yaxis.ticker = FixedTicker(ticks=yticks_c)
style_axis(fc.xaxis[0], "35px", 10, 24, "44px", 6, xticks_c)
style_axis(fc.yaxis[0], "35px", 10, 13, "44.5px", 18, yticks_c)
fc.add_layout(blank_axis(xticks_c, 10), "above")
fc.add_layout(blank_axis(yticks_c, 10), "right")

GREY = "#b4b4b4"
r_zero = fc.line(x=[0, 350], y=[0, 0], line_color="black", line_width=3, line_dash="3 4")
r_model = fc.line(x=model_r, y=model_ssh, line_color=GREY, line_width=7)
r_stdm = fc.line(x=std_model_r, y=std_model, line_color=GREY, line_width=7, line_dash="38 24")
r_grid = fc.line(x=gridded_r, y=gridded_ssh, line_color="#e2481c", line_width=3)
r_std = fc.line(x=std_r, y=std_tracks, line_color="#f2ab14", line_width=3)
r_tracks = fc.line(x=tracks_r, y=tracks_ssh, line_color="#0a78c4", line_width=3)
r_gauss = fc.line(x=gauss_r, y=gauss_ssh, line_color="#141414", line_width=3)
legend = Legend(items=[LegendItem(label="SSH profile from tracks", renderers=[r_tracks]),
                       LegendItem(label="SSH profile from model", renderers=[r_model]),
                       LegendItem(label="Estimated gridded SSH", renderers=[r_grid]),
                       LegendItem(label="SSH STD from tracks", renderers=[r_std]),
                       LegendItem(label="SSH STD from model", renderers=[r_stdm]),
                       LegendItem(label="Gaussian SSH profile", renderers=[r_gauss])],
                location=(546, 709), padding=7, spacing=0, margin=0, label_text_font=SERIF, label_text_font_size="36px",
                label_text_color=INK, label_standoff=14, glyph_width=109, glyph_height=34, label_height=34,
                border_line_color=INK, border_line_width=2, background_fill_color="white", background_fill_alpha=1)
fc.add_layout(legend, "center")
fc.text(x=[22.4], y=[13.5], text=["(c)"], text_font=value(SERIF), text_font_size="40px", text_color=INK,
        text_align="center", text_baseline="middle")

# ------------------------------------------------------------------ page
root = column(row(fa, fcb, fcl, spacing=0), row(fb, fc, spacing=0), spacing=0)
root.margin = (8, 0, 0, 10)
page = file_html(root, INLINE)
edge_css = ("<style>html,body{background:"
            "linear-gradient(#06061e,#06061e) top left/100% 8px no-repeat,"
            "linear-gradient(180deg,#06061e 0%,#262648 40%,#6c6c8a 100%) top left/10px 100% no-repeat,#ffffff;}"
            "</style>")
page = page.replace("</head>", edge_css + "</head>", 1)
open("out.html", "w").write(page)
